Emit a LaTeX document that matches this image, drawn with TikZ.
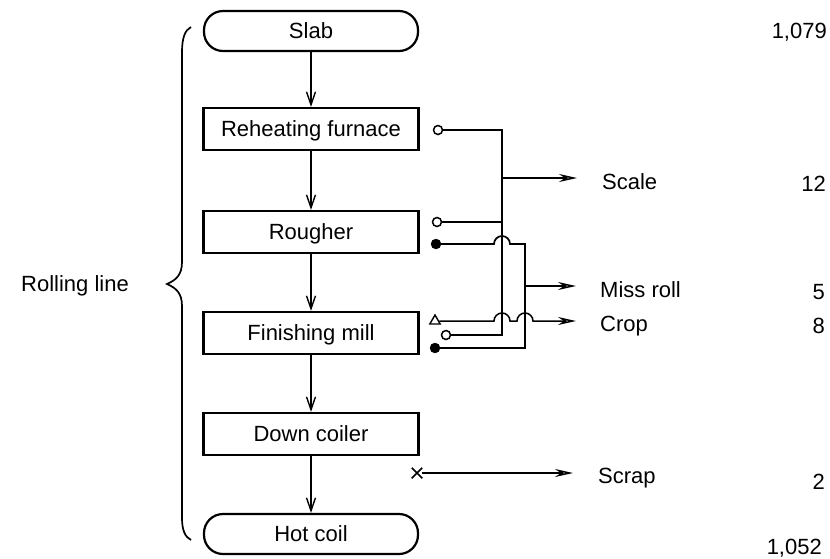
\documentclass[tikz,border=0pt]{standalone}
\usepackage{fontspec}
\setmainfont{Liberation Sans}
\usetikzlibrary{arrows.meta,shapes.geometric,shapes.misc}
\begin{document}
\begin{tikzpicture}[x=1pt,y=-1pt,
  font=\fontsize{22}{26}\selectfont,
  procbox/.style={draw, line width=2.2pt, minimum width=215pt, minimum height=42pt, inner sep=0pt, text height=15.7pt, text depth=0pt},
  termbox/.style={draw, line width=2.2pt, rounded corners=19pt, minimum width=214pt, minimum height=40pt, inner sep=0pt, text height=15.7pt, text depth=0pt},
  flow/.style={line width=1.4pt, -{Straight Barb[length=13pt,width=9pt]}},
  wire/.style={line width=1.7pt},
  outarrow/.style={line width=1.5pt, -{Stealth[open,length=18pt,width=8pt]}},
  opendot/.style={draw, circle, fill=white, line width=1.5pt, minimum size=9pt, inner sep=0pt},
  filldot/.style={draw, circle, fill=black, minimum size=10pt, inner sep=0pt},
  tridot/.style={draw, regular polygon, regular polygon sides=3, fill=white, line width=1.4pt, minimum size=12pt, inner sep=0pt},
  xdot/.style={draw, cross out, line width=1.5pt, minimum size=9pt, inner sep=0pt},
  lbl/.style={anchor=base west, inner sep=0pt},
  numlbl/.style={anchor=base east, inner sep=0pt}]
\useasboundingbox (0,0) rectangle (830,558);

% main column
\node[termbox]  (slab)    at (311,31)  {Slab};
\node[procbox]  (reheat)  at (311,129) {Reheating furnace};
\node[procbox]  (rougher) at (311,232) {Rougher};
\node[procbox]  (finish)  at (311,333) {Finishing mill};
\node[procbox]  (coiler)  at (311,434) {Down coiler};
\node[termbox]  (hot)     at (311,534) {Hot coil};

\draw[flow] (slab) -- (reheat);
\draw[flow] (reheat) -- (rougher);
\draw[flow] (rougher) -- (finish);
\draw[flow] (finish) -- (coiler);
\draw[flow] (coiler) -- (hot);

% brace and its label
\draw[line width=1.7pt] (191,27) .. controls (185,30) and (182,38) .. (182,52)
  -- (182,262) .. controls (182,275) and (176,280) .. (167,284)
  .. controls (176,288) and (182,293) .. (182,306)
  -- (182,518) .. controls (182,530) and (185,537) .. (191,540);
\node[anchor=east, inner sep=0pt, text height=15.7pt, text depth=0pt] (rl) at (129,284) {Rolling line};

% terminals
\node[opendot] (t1) at (438,130) {};
\node[opendot] (t2) at (437,222) {};
\node[filldot] (t3) at (436,244) {};
\node[tridot]  (t4) at (435,321) {};
\node[opendot] (t5) at (446,335) {};
\node[filldot] (t6) at (435,348) {};
\node[xdot]    (t7) at (417,473) {};

% scale bus
\coordinate (s1) at (502,130);
\coordinate (s2) at (502,335);
\coordinate (sj) at (502,178);
\coordinate (sa) at (577,178);
\draw[wire] (t1) -- (s1) -- (s2) -- (t5);
\draw[wire] (t2) -- (t2 -| s1);
\draw[outarrow] (sj) -- (sa);

% miss roll bus
\coordinate (m1) at (525,244);
\coordinate (m2) at (525,348);
\coordinate (mj) at (525,286);
\coordinate (ma) at (576,286);
\draw[wire] (t3) -- (494,244) arc[start angle=180, end angle=0, radius=8pt] -- (m1) -- (m2) -- (t6);
\draw[outarrow] (mj) -- (ma);

% crop line
\coordinate (ca) at (576,321);
\draw[outarrow] (t4) -- (494,321) arc[start angle=180, end angle=0, radius=8pt]
  -- (517,321) arc[start angle=180, end angle=0, radius=8pt] -- (ca);

% scrap line
\coordinate (xa) at (573,473);
\draw[outarrow] (t7) -- (xa);

% labels
\node[lbl] (scale) at (602,189) {Scale};
\node[lbl] (miss)  at (600,297) {Miss roll};
\node[lbl] (crop)  at (600,331) {Crop};
\node[lbl] (scrap) at (598,483) {Scrap};

\node[numlbl] (n1) at (827,38)  {1,079};
\node[numlbl] (n2) at (826,191) {12};
\node[numlbl] (n3) at (825,299) {5};
\node[numlbl] (n4) at (825,333) {8};
\node[numlbl] (n5) at (825,489) {2};
\node[numlbl] (n6) at (822,554) {1,052};
\end{tikzpicture}
\end{document}
